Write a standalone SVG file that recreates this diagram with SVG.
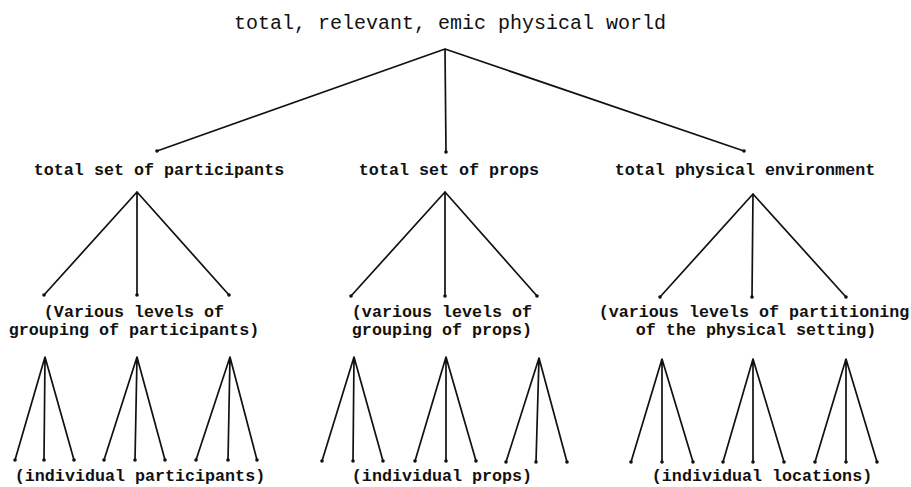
<svg xmlns="http://www.w3.org/2000/svg" width="911" height="487" viewBox="0 0 911 487">
  <style>
    .bg { fill: #ffffff; }
    .edge { stroke: #111111; stroke-width: 1.7; fill: none; stroke-linecap: round; }
    .dot { fill: #111111; }
    .title { font-family: "Liberation Mono", "DejaVu Sans Mono", monospace; font-size: 20px; fill: #111111; text-anchor: middle; }
    .label { font-family: "Liberation Mono", "DejaVu Sans Mono", monospace; font-size: 16.7px; font-weight: bold; fill: #111111; text-anchor: middle; }
  </style>
  <rect class="bg" x="0" y="0" width="911" height="487"/>

  <!-- connectors -->
  <g id="connectors">
    <!-- world to the three sets -->
    <path class="edge" d="M445 49 L157 151 M445 49 L446 152 M445 49 L744 151"/>
    <!-- sets to grouping levels -->
    <path class="edge" d="M137 192 L44 295 M137 192 L137 295 M137 192 L229 295"/>
    <path class="edge" d="M445 192 L351 296 M445 192 L445 296 M445 192 L537 296"/>
    <path class="edge" d="M753 194 L660 297 M753 194 L752 297 M753 194 L846 297"/>
    <!-- grouping levels to individuals -->
    <path class="edge" d="M45 357 L15 460 M45 357 L44 460 M45 357 L74 460"/>
    <path class="edge" d="M137 357 L104 460 M137 357 L135 460 M137 357 L165 460"/>
    <path class="edge" d="M230 357 L196 460 M230 357 L228 460 M230 357 L257 460"/>
    <path class="edge" d="M354 357 L322 461 M354 357 L353 461 M354 357 L383 461"/>
    <path class="edge" d="M446 357 L415 461 M446 357 L446 461 M446 357 L476 461"/>
    <path class="edge" d="M539 358 L506 462 M539 358 L536 462 M539 358 L567 462"/>
    <path class="edge" d="M662 359 L631 462 M662 359 L662 462 M662 359 L693 462"/>
    <path class="edge" d="M753 359 L723 462 M753 359 L753 462 M753 359 L784 462"/>
    <path class="edge" d="M846 359 L815 462 M846 359 L846 462 M846 359 L877 462"/>
    <!-- end dots -->
    <g class="dot">
      <circle cx="157" cy="151" r="1.8"/><circle cx="446" cy="152" r="1.8"/><circle cx="744" cy="151" r="1.8"/>
      <circle cx="44" cy="295" r="1.8"/><circle cx="137" cy="295" r="1.8"/><circle cx="229" cy="295" r="1.8"/>
      <circle cx="351" cy="296" r="1.8"/><circle cx="445" cy="296" r="1.8"/><circle cx="537" cy="296" r="1.8"/>
      <circle cx="660" cy="297" r="1.8"/><circle cx="752" cy="297" r="1.8"/><circle cx="846" cy="297" r="1.8"/>
      <circle cx="15" cy="460" r="1.8"/><circle cx="44" cy="460" r="1.8"/><circle cx="74" cy="460" r="1.8"/>
      <circle cx="104" cy="460" r="1.8"/><circle cx="135" cy="460" r="1.8"/><circle cx="165" cy="460" r="1.8"/>
      <circle cx="196" cy="460" r="1.8"/><circle cx="228" cy="460" r="1.8"/><circle cx="257" cy="460" r="1.8"/>
      <circle cx="322" cy="461" r="1.8"/><circle cx="353" cy="461" r="1.8"/><circle cx="383" cy="461" r="1.8"/>
      <circle cx="415" cy="461" r="1.8"/><circle cx="446" cy="461" r="1.8"/><circle cx="476" cy="461" r="1.8"/>
      <circle cx="506" cy="462" r="1.8"/><circle cx="536" cy="462" r="1.8"/><circle cx="567" cy="462" r="1.8"/>
      <circle cx="631" cy="462" r="1.8"/><circle cx="662" cy="462" r="1.8"/><circle cx="693" cy="462" r="1.8"/>
      <circle cx="723" cy="462" r="1.8"/><circle cx="753" cy="462" r="1.8"/><circle cx="784" cy="462" r="1.8"/>
      <circle cx="815" cy="462" r="1.8"/><circle cx="846" cy="462" r="1.8"/><circle cx="877" cy="462" r="1.8"/>
    </g>
  </g>

  <!-- nodes -->
  <g id="world">
    <text class="title" x="450" y="29">total, relevant, emic physical world</text>
  </g>
  <g id="participants">
    <text class="label" x="159" y="175">total set of participants</text>
  </g>
  <g id="props">
    <text class="label" x="449" y="175">total set of props</text>
  </g>
  <g id="environment">
    <text class="label" x="745" y="175">total physical environment</text>
  </g>
  <g id="participant-groups">
    <text class="label" x="134" y="317">(Various levels of</text>
    <text class="label" x="134" y="335">grouping of participants)</text>
  </g>
  <g id="prop-groups">
    <text class="label" x="442" y="317">(various levels of</text>
    <text class="label" x="442" y="335">grouping of props)</text>
  </g>
  <g id="setting-partitions">
    <text class="label" x="754" y="317">(various levels of partitioning</text>
    <text class="label" x="756" y="335">of the physical setting)</text>
  </g>
  <g id="individual-participants">
    <text class="label" x="140" y="481">(individual participants)</text>
  </g>
  <g id="individual-props">
    <text class="label" x="442" y="481">(individual props)</text>
  </g>
  <g id="individual-locations">
    <text class="label" x="762" y="481">(individual locations)</text>
  </g>
</svg>
